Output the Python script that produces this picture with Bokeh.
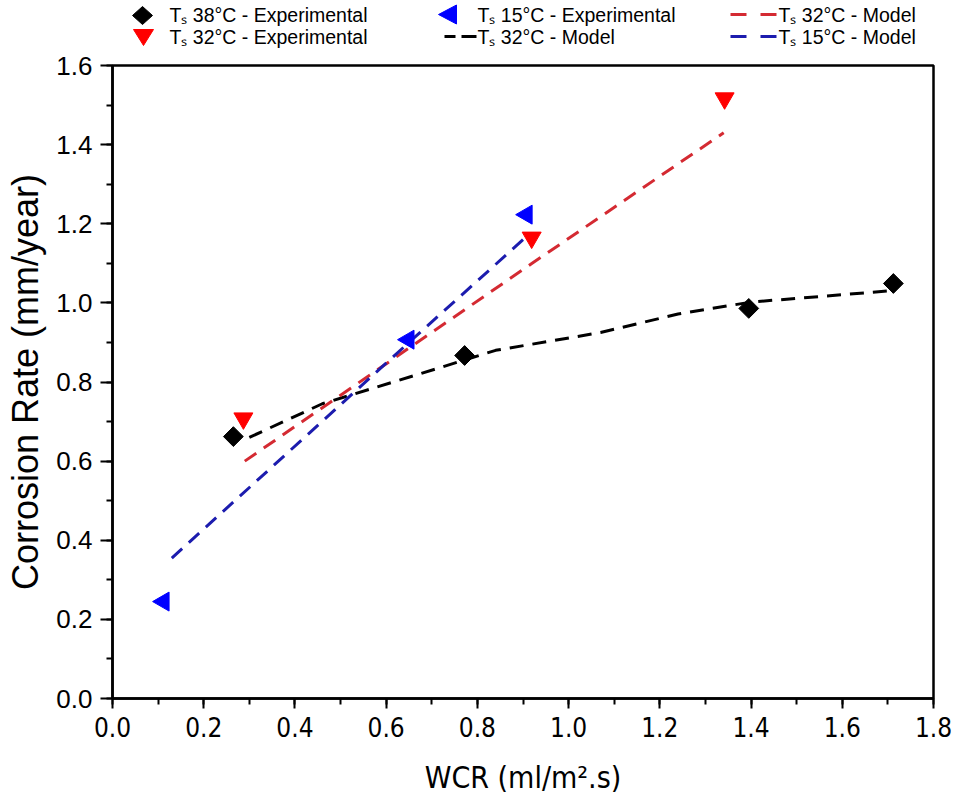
import math
from bokeh.plotting import figure
from bokeh.layouts import column
from bokeh.models import Range1d, SingleIntervalTicker, PrintfTickFormatter
from bokeh.core.properties import value
from bokeh.embed import file_html
from bokeh.resources import INLINE

# ---- data ----
exp38_x = [0.265, 0.772, 1.395, 1.712]
exp38_y = [0.662, 0.867, 0.986, 1.049]
exp32_x = [0.287, 0.919, 1.342]
exp32_y = [0.708, 1.165, 1.517]
exp15_x = [0.112, 0.649, 0.908]
exp15_y = [0.245, 0.907, 1.223]

mod38_x = [0.30, 0.46, 0.72, 0.84, 1.07, 1.24, 1.40, 1.71]
mod38_y = [0.66, 0.745, 0.837, 0.88, 0.925, 0.972, 1.002, 1.031]
mod32_x = [0.29, 0.92, 1.34]
mod32_y = [0.60, 1.10, 1.43]
mod15_x = [0.13, 0.65, 0.91]
mod15_y = [0.355, 0.90, 1.17]

x_ticks = [0.0, 0.2, 0.4, 0.6, 0.8, 1.0, 1.2, 1.4, 1.6, 1.8]
y_ticks = [0.0, 0.2, 0.4, 0.6, 0.8, 1.0, 1.2, 1.4, 1.6]

legend_labels = ["T\u209b 38\u00b0C - Experimental", "T\u209b 32\u00b0C - Experimental",
                 "T\u209b 15\u00b0C - Experimental", "T\u209b 32\u00b0C - Model",
                 "T\u209b 32\u00b0C - Model", "T\u209b 15\u00b0C - Model"]

FONT = "Liberation Sans"
NARROW = "'Liberation Sans Narrow', 'DejaVu Sans Condensed', 'Liberation Sans'"

W = 955
LEG_H = 48           # height of the legend strip above the plot
FL, FR = 112, 933    # frame left / right (canvas px)
FT, FB = 65, 698     # frame top / bottom (canvas px)
MAIN_H = 809 - LEG_H

RED_L = "#d42a32"
BLUE_L = "#1c1cae"
DASH = "14 9"

# ---------------- main plot ----------------
p = figure(width=W, height=MAIN_H, output_backend="svg", toolbar_location=None,
           x_range=Range1d(x_ticks[0], x_ticks[-1]), y_range=Range1d(y_ticks[0], y_ticks[-1]),
           min_border_left=FL, min_border_right=W - FR,
           min_border_top=FT - LEG_H, min_border_bottom=809 - FB,
           frame_width=FR - FL, frame_height=FB - FT)
p.background_fill_color = "white"
p.border_fill_color = "white"
p.outline_line_color = "black"
p.outline_line_width = 2.5
p.xgrid.visible = False
p.ygrid.visible = False

p.xaxis.ticker = SingleIntervalTicker(interval=0.2, num_minor_ticks=2)
p.yaxis.ticker = SingleIntervalTicker(interval=0.2, num_minor_ticks=2)
p.xaxis.formatter = PrintfTickFormatter(format="%.1f")
p.yaxis.formatter = PrintfTickFormatter(format="%.1f")
for ax in (p.xaxis[0], p.yaxis[0]):
    ax.axis_line_width = 2.5
    ax.axis_line_color = "black"
    ax.major_tick_in = 0
    ax.minor_tick_in = 0
    ax.major_tick_line_width = 2
    ax.minor_tick_line_width = 2
    ax.major_tick_line_color = "black"
    ax.minor_tick_line_color = "black"
    ax.major_label_text_color = "black"
    ax.axis_label_text_color = "black"
    ax.axis_label_text_font_style = "normal"

p.xaxis.major_tick_out = 10
p.xaxis.minor_tick_out = 6
p.yaxis.major_tick_out = 12
p.yaxis.minor_tick_out = 6

p.xaxis.major_label_text_font = NARROW
p.xaxis.major_label_text_font_size = "26px"
p.xaxis.major_label_standoff = 8
p.xaxis.axis_label = "WCR (ml/m\u00b2.s)"
p.xaxis.axis_label_text_font = NARROW
p.xaxis.axis_label_text_font_size = "30px"
p.xaxis.axis_label_standoff = 20

p.yaxis.major_label_text_font = FONT
p.yaxis.major_label_text_font_size = "26px"
p.yaxis.major_label_standoff = 8
p.yaxis.axis_label = "Corrosion Rate (mm/year)"
p.yaxis.axis_label_text_font = FONT
p.yaxis.axis_label_text_font_size = "36px"
p.yaxis.axis_label_standoff = 7

p.line(mod38_x, mod38_y, line_color="black", line_width=3, line_dash=DASH)
p.line(mod32_x, mod32_y, line_color=RED_L, line_width=3, line_dash=DASH)
p.line(mod15_x, mod15_y, line_color=BLUE_L, line_width=3, line_dash=DASH)

p.scatter(exp38_x, exp38_y, marker="square", angle=math.pi / 4, size=14,
          fill_color="black", line_color="black")
p.scatter(exp32_x, exp32_y, marker="inverted_triangle", size=19,
          fill_color="red", line_color="red")
p.scatter(exp15_x, exp15_y, marker="triangle", angle=math.pi / 2, size=19,
          fill_color="blue", line_color="blue")

# ---------------- legend strip (pixel coordinates, frame aligned with main plot) ----------------
lg = figure(width=W, height=LEG_H, output_backend="svg", toolbar_location=None,
            x_range=Range1d(FL, FR), y_range=Range1d(LEG_H, 0),
            min_border_left=FL, min_border_right=W - FR, min_border_top=0, min_border_bottom=0,
            frame_width=FR - FL, frame_height=LEG_H)
lg.axis.visible = False
lg.xgrid.visible = False
lg.ygrid.visible = False
lg.outline_line_color = None
lg.background_fill_color = "white"
lg.border_fill_color = "white"

ROW1, ROW2 = 14, 36

lg.patch([132, 142, 152, 142], [ROW1 + 1, ROW1 - 8, ROW1 + 1, ROW1 + 10],
         fill_color="black", line_color="black")
lg.patch([133, 153, 143], [ROW2 - 7, ROW2 - 7, ROW2 + 9],
         fill_color="red", line_color="red")
lg.patch([438, 456, 456], [ROW1, ROW1 - 9.5, ROW1 + 9.5],
         fill_color="blue", line_color="blue")
lg.segment(x0=[444, 461], y0=[ROW2, ROW2], x1=[455, 476], y1=[ROW2, ROW2],
           line_color="black", line_width=3)
lg.segment(x0=[730, 760], y0=[ROW1, ROW1], x1=[746, 776], y1=[ROW1, ROW1],
           line_color=RED_L, line_width=3)
lg.segment(x0=[730, 760], y0=[ROW2, ROW2], x1=[746, 776], y1=[ROW2, ROW2],
           line_color=BLUE_L, line_width=3)

lg.text(x=[169, 169, 477, 477, 778, 778],
        y=[ROW1, ROW2, ROW1, ROW2, ROW1, ROW2],
        text=legend_labels,
        text_font=value(FONT), text_font_size="19.5px", text_color="black",
        text_baseline="middle", text_align="left")

layout = column(lg, p, spacing=0)
open("out.html", "w").write(file_html(layout, INLINE))
